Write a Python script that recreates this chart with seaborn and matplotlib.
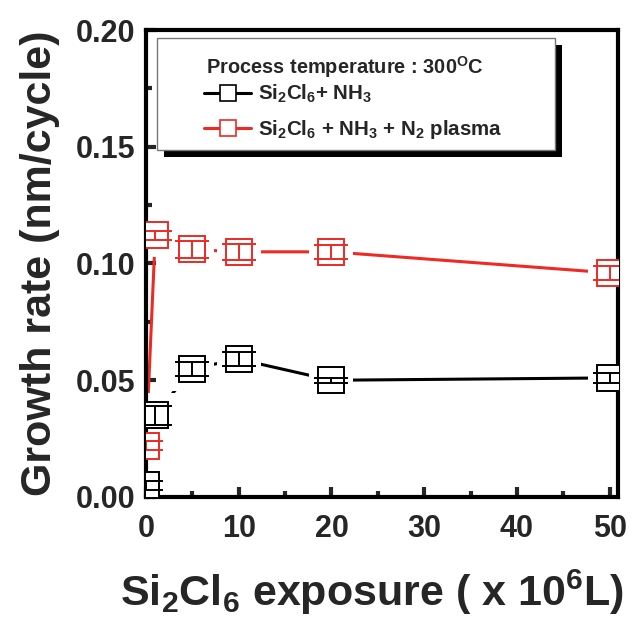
import matplotlib
matplotlib.use("Agg")
import matplotlib.pyplot as plt
import seaborn as sns
import pandas as pd
from matplotlib.patches import Rectangle
from matplotlib.lines import Line2D
from matplotlib.ticker import MultipleLocator, FormatStrFormatter

sns.set_style("white")
plt.rcParams['font.family'] = ['Liberation Sans', 'DejaVu Sans']
plt.rcParams['font.weight'] = 'bold'
plt.rcParams['mathtext.fontset'] = 'custom'
plt.rcParams['mathtext.rm'] = 'Liberation Sans:bold'
plt.rcParams['mathtext.bf'] = 'Liberation Sans:bold'
plt.rcParams['mathtext.default'] = 'rm'

# data
exposure = [0, 1, 5, 10, 20, 50]
rate_nh3 = [0.005, 0.035, 0.055, 0.059, 0.050, 0.051]
err_nh3 = [0.002, 0.004, 0.003, 0.003, 0.001, 0.002]
rate_plasma = [0.022, 0.112, 0.106, 0.105, 0.105, 0.096]
err_plasma = [0.002, 0.002, 0.0035, 0.0035, 0.003, 0.003]
series_names = [r"Si$_2$Cl$_6$+ NH$_3$", r"Si$_2$Cl$_6$ + NH$_3$ + N$_2$ plasma"]
legend_title = r"Process temperature : 300$^{O}$C"
colors = ["black", "#ee2a24"]

df = pd.DataFrame({
    "x": exposure * 2,
    "y": rate_nh3 + rate_plasma,
    "series": [series_names[0]] * 6 + [series_names[1]] * 6,
})

W, H = 643, 635
fig = plt.figure(figsize=(W / 100, H / 100), dpi=100)
ax = fig.add_axes([146 / W, 1 - 497 / H, (618 - 146) / W, (497 - 30) / H])

pal = dict(zip(series_names, colors))
sns.lineplot(data=df, x="x", y="y", hue="series", palette=pal, ax=ax,
             lw=2.2, legend=False, zorder=1)
# white pads to create gaps around markers
sns.scatterplot(data=df, x="x", y="y", ax=ax, color="white", marker="s",
                s=31**2, linewidth=0, legend=False, zorder=2)
for yv, ev, c in [(rate_nh3, err_nh3, colors[0]), (rate_plasma, err_plasma, colors[1])]:
    ax.plot(exposure, yv, ls="none", marker="s", ms=19, mfc="white",
            mec=c, mew=1.4, zorder=3)
    ax.errorbar(exposure, yv, yerr=ev, fmt="none", ecolor=c, elinewidth=1.4,
                capsize=12, capthick=1.4, zorder=4)

ax.set_xlim(0, 50.9)
ax.set_ylim(0, 0.20)
ax.xaxis.set_major_locator(MultipleLocator(10))
ax.xaxis.set_minor_locator(MultipleLocator(5))
ax.yaxis.set_major_locator(MultipleLocator(0.05))
ax.yaxis.set_minor_locator(MultipleLocator(0.025))
ax.yaxis.set_major_formatter(FormatStrFormatter('%.2f'))
ax.tick_params(axis='both', which='major', direction='in', length=7, width=3,
               labelsize=22, top=False, right=False, bottom=True, left=True)
ax.tick_params(axis='x', which='major', pad=12)
ax.tick_params(axis='y', which='major', pad=8)
ax.tick_params(axis='both', which='minor', direction='in', length=4, width=3,
               top=False, right=False, bottom=True, left=True)
for lab in ax.get_xticklabels() + ax.get_yticklabels():
    lab.set_fontweight('bold')
for sp in ax.spines.values():
    sp.set_linewidth(3)
    sp.set_color('black')

ax.set_xlabel(r"Si$_2$Cl$_6$ exposure ( x 10$^6$L)", fontsize=31, fontweight='bold')
ax.xaxis.set_label_coords((372 - 146) / 472, (497 - 568) / 467)
ax.set_ylabel("Growth rate (nm/cycle)", fontsize=31, fontweight='bold')
ax.yaxis.set_label_coords((20 - 146) / 472, 0.5)
ax.yaxis.label.set_va('top')

# legend frame + shadow (drawn manually)
x0, x1, y0, y1 = 157 / W, 555 / W, 1 - 150 / H, 1 - 38 / H
shadow = Rectangle((x0 + 7 / W, y0 - 7 / H), x1 - x0, y1 - y0, transform=fig.transFigure,
                   facecolor='black', edgecolor='none', zorder=8)
frame = Rectangle((x0, y0), x1 - x0, y1 - y0, transform=fig.transFigure,
                  facecolor='white', edgecolor='#777777', lw=1.0, zorder=9)
fig.add_artist(shadow)
fig.add_artist(frame)

fig.text(206 / W, 1 - 67 / H, legend_title, fontsize=14.4, fontweight='bold',
         ha='left', va='center', zorder=10)

handles = [Line2D([], [], color=c, lw=2.2, marker="s", ms=11, mfc="white",
                  mec=c, mew=1.2) for c in colors]
leg = fig.legend(handles, series_names,
                 loc="upper left", bbox_to_anchor=(200 / W, 1 - 79 / H),
                 frameon=False, fontsize=14.8,
                 handlelength=2.3, handletextpad=0.3, labelspacing=0.62,
                 borderpad=0.2, borderaxespad=0)
for t in leg.get_texts():
    t.set_fontweight('bold')
leg.set_zorder(10)

fig.savefig("out.png", dpi=100)
